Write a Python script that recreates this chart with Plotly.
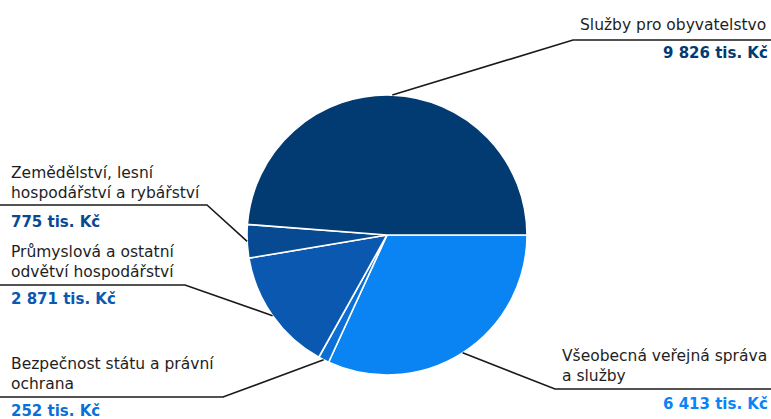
import math
import plotly.graph_objects as go

W, H = 771, 419

# Budget chapters, in clockwise order starting at 3 o'clock
categories = [
    "Všeobecná veřejná správa a služby",
    "Bezpečnost státu a právní ochrana",
    "Průmyslová a ostatní odvětví hospodářství",
    "Zemědělství, lesní hospodářství a rybářství",
    "Služby pro obyvatelstvo",
]
values = [6413, 252, 2871, 775, 9826]  # tis. Kč
label_lines = [
    "Všeobecná veřejná správa<br>a služby",
    "Bezpečnost státu a právní<br>ochrana",
    "Průmyslová a ostatní<br>odvětví hospodářství",
    "Zemědělství, lesní<br>hospodářství a rybářství",
    "Služby pro obyvatelstvo",
]
colors = ["#0a84f2", "#0b6fd6", "#0a58b0", "#084a92", "#023a72"]

# Pie geometry in pixels
CX, CY, R = 387, 235, 140


def px(x):
    return x / W


def py(y):
    return 1 - y / H


def fmt(v):
    return f"{v:,}".replace(",", " ") + " tis. Kč"


# Callout layout per slice: elbow, end of horizontal rule, label and value placement
callouts = [
    dict(elbow=(555, 389), end=790, label=(561, 366, "left"), value=(769, 404, "right")),
    dict(elbow=(223, 397), end=-10, label=(10, 374, "left"), value=(10, 411, "left")),
    dict(elbow=(185, 285), end=-10, label=(10, 262, "left"), value=(10, 299, "left")),
    dict(elbow=(207, 205), end=-10, label=(10, 183, "left"), value=(10, 222, "left")),
    dict(elbow=(573, 40), end=790, label=(767, 25, "right"), value=(769, 53, "right")),
]

fig = go.Figure(
    go.Pie(
        labels=categories,
        values=values,
        sort=False,
        direction="clockwise",
        rotation=90,
        marker=dict(colors=colors, line=dict(color="white", width=1.6)),
        textinfo="none",
        hoverinfo="none",
        showlegend=False,
        domain=dict(x=[px(CX - R), px(CX + R)], y=[py(CY + R), py(CY - R)]),
    )
)

total = sum(values)
cum = 0
shapes = []
annotations = []
for v, lab, col, c in zip(values, label_lines, colors, callouts):
    mid = 90 + (cum + v / 2) / total * 360  # degrees clockwise from 12 o'clock
    cum += v
    ex = CX + R * math.sin(math.radians(mid))
    ey = CY - R * math.cos(math.radians(mid))
    bx, by = c["elbow"]
    path = f"M {px(ex)} {py(ey)} L {px(bx)} {py(by)} L {px(c['end'])} {py(by)}"
    shapes.append(dict(type="path", xref="paper", yref="paper", path=path,
                       line=dict(color="#1a1a1a", width=1.6)))
    lx, ly, la = c["label"]
    annotations.append(dict(x=px(lx), y=py(ly), xref="paper", yref="paper",
                            text=lab, showarrow=False, xanchor=la, yanchor="middle",
                            align=la, borderpad=0,
                            font=dict(family="DejaVu Sans", size=15.5, color="#1e1e1e")))
    vx, vy, va = c["value"]
    annotations.append(dict(x=px(vx), y=py(vy), xref="paper", yref="paper",
                            text=f"<b>{fmt(v)}</b>", showarrow=False, xanchor=va,
                            yanchor="middle", align=va, borderpad=0,
                            font=dict(family="DejaVu Sans", size=15, color=col)))

fig.update_layout(
    width=W,
    height=H,
    margin=dict(l=0, r=0, t=0, b=0),
    paper_bgcolor="white",
    plot_bgcolor="white",
    shapes=shapes,
    annotations=annotations,
)

fig.write_html("out.html")
